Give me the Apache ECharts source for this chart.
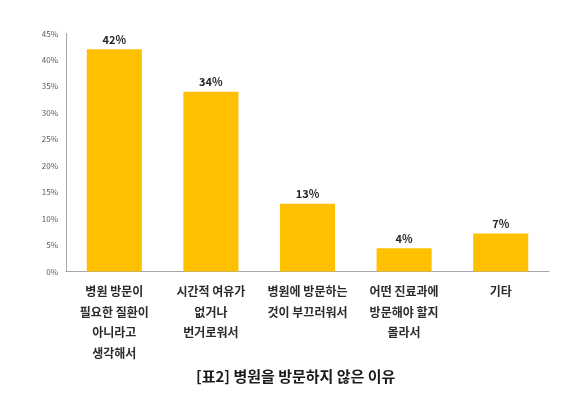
<!DOCTYPE html>
<html>
<head>
<meta charset="utf-8">
<script src="https://cdn.jsdelivr.net/npm/echarts@6/dist/echarts.min.js"></script>
<style>
html,body{margin:0;padding:0;background:#fff;}
#c{width:575px;height:393px;}
</style>
</head>
<body>
<div id="c"></div>
<script>
var categories = ['병원 방문이\n필요한 질환이\n아니라고\n생각해서', '시간적 여유가\n없거나\n번거로워서', '병원에 방문하는\n것이 부끄러워서', '어떤 진료과에\n방문해야 할지\n몰라서', '기타'];
var values = [42, 34, 12.8, 4.4, 7.2];
var valueLabels = ['42%', '34%', '13%', '4%', '7%'];
var yTicks = [0, 5, 10, 15, 20, 25, 30, 35, 40, 45];
var titleText = '[표2] 병원을 방문하지 않은 이유';

var chart = echarts.init(document.getElementById('c'), null, {renderer: 'canvas'});
var FONT = '"Noto Sans CJK KR", "Noto Sans", sans-serif';
chart.setOption({
  animation: false,
  backgroundColor: '#ffffff',
  textStyle: {fontFamily: FONT},
  title: {
    text: titleText,
    left: 191, top: 364,
    textStyle: {fontSize: 15, fontWeight: 'bold', color: '#1a1a1a', fontFamily: FONT}
  },
  grid: {left: 66, right: 26, top: 33.5, bottom: 121.5, containLabel: false},
  xAxis: {
    type: 'category',
    data: categories,
    axisLine: {show: true, lineStyle: {color: '#a6a6a6', width: 1}},
    axisTick: {show: false},
    axisLabel: {
      interval: 0, margin: 10, fontSize: 12, fontWeight: 'bold', color: '#2b2b2b',
      lineHeight: 20.5, align: 'center', fontFamily: FONT
    }
  },
  yAxis: {
    type: 'value',
    min: yTicks[0], max: yTicks[yTicks.length - 1], interval: 5,
    axisLine: {show: true, lineStyle: {color: '#a6a6a6', width: 1}},
    axisTick: {show: false},
    splitLine: {show: false},
    axisLabel: {
      margin: 8, fontSize: 8, color: '#595959', fontFamily: FONT,
      formatter: function (v) { return v + '%'; }
    }
  },
  series: [{
    type: 'bar',
    data: values,
    barWidth: '57%',
    itemStyle: {color: '#FFC000'},
    label: {
      show: true, position: 'top', distance: 4,
      fontSize: 11, fontWeight: 'bold', color: '#262626', fontFamily: FONT,
      formatter: function (p) { return valueLabels[p.dataIndex]; }
    }
  }]
});
</script>
</body>
</html>
